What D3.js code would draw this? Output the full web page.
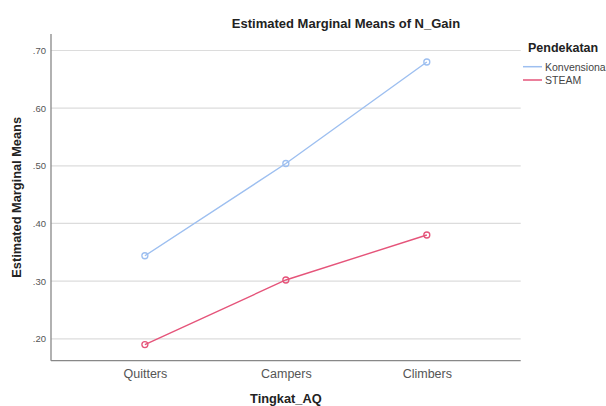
<!DOCTYPE html>
<html><head><meta charset="utf-8">
<script src="https://cdn.jsdelivr.net/npm/d3@7"></script>
<style>body{margin:0;background:#fff}svg{display:block}</style>
</head><body>
<script>
const categories = ["Quitters", "Campers", "Climbers"];
const seriesNames = ["Konvensional", "STEAM"];
const konvensional = [0.344, 0.504, 0.680];
const steam = [0.190, 0.302, 0.380];
const yTicks = [0.20, 0.30, 0.40, 0.50, 0.60, 0.70];
const colors = ["#9dbff0", "#e5547a"];

const W = 606, H = 406;
const m = {left: 51, right: 85.3, top: 34, bottom: 45.3};
const svg = d3.select("body").append("svg").attr("width", W).attr("height", H);

const x = d3.scalePoint().domain(categories).range([m.left, W - m.right]).padding(0.666);
const y = d3.scaleLinear().domain([0.162, 0.7286]).range([H - m.bottom, m.top]);

// gridlines
svg.append("g").selectAll("line").data(yTicks).join("line")
  .attr("x1", m.left).attr("x2", W - m.right)
  .attr("y1", d => y(d)).attr("y2", d => y(d))
  .attr("stroke", "#dcdcdc").attr("stroke-width", 1.2);

// axes
const yAxis = svg.append("g").attr("transform", `translate(${m.left},0)`)
  .call(d3.axisLeft(y).tickValues(yTicks).tickSize(0).tickPadding(5).tickFormat(d => d3.format(".2f")(d).replace(/^0/, "")));
yAxis.select(".domain").remove();
yAxis.selectAll("text").attr("fill", "#555").style("font-family", "Arial, 'Liberation Sans', sans-serif").style("font-size", "9.5px");

const xAxis = svg.append("g").attr("transform", `translate(0,${H - m.bottom})`)
  .call(d3.axisBottom(x).tickSize(0).tickPadding(8));
xAxis.select(".domain").remove();
xAxis.selectAll("text").attr("fill", "#555").style("font-family", "Arial, 'Liberation Sans', sans-serif").style("font-size", "12.5px");

svg.append("line").attr("x1", m.left).attr("x2", m.left).attr("y1", m.top).attr("y2", H - m.bottom)
  .attr("stroke", "#888").attr("stroke-width", 1.3);
svg.append("line").attr("x1", m.left).attr("x2", W - m.right).attr("y1", H - m.bottom).attr("y2", H - m.bottom)
  .attr("stroke", "#888").attr("stroke-width", 1.3);

// series
const series = [konvensional, steam];
const line = d3.line().x((d, i) => x(categories[i])).y(d => y(d));
series.forEach((vals, si) => {
  svg.append("path").datum(vals).attr("d", line).attr("fill", "none")
    .attr("stroke", colors[si]).attr("stroke-width", 1.4);
  svg.append("g").selectAll("circle").data(vals).join("circle")
    .attr("cx", (d, i) => x(categories[i])).attr("cy", d => y(d)).attr("r", 3)
    .attr("fill", "none").attr("stroke", colors[si]).attr("stroke-width", 1.3);
});

const font = "Arial, 'Liberation Sans', sans-serif";
// title
svg.append("text").attr("x", 346).attr("y", 28).attr("text-anchor", "middle")
  .style("font-family", font).style("font-size", "13px").style("font-weight", "bold").attr("fill", "#222")
  .text("Estimated Marginal Means of N_Gain");
// y label
svg.append("text").attr("transform", `translate(21,${(m.top + H - m.bottom) / 2}) rotate(-90)`).attr("text-anchor", "middle")
  .style("font-family", font).style("font-size", "12.8px").style("font-weight", "bold").attr("fill", "#222")
  .text("Estimated Marginal Means");
// x label
svg.append("text").attr("x", (m.left + W - m.right) / 2).attr("y", 402.5).attr("text-anchor", "middle")
  .style("font-family", font).style("font-size", "12.8px").style("font-weight", "bold").attr("fill", "#222")
  .text("Tingkat_AQ");

// legend
svg.append("text").attr("x", 528).attr("y", 52)
  .style("font-family", font).style("font-size", "12.5px").style("font-weight", "bold").attr("fill", "#222")
  .text("Pendekatan");
seriesNames.forEach((n, i) => {
  const yy = 66.7 + i * 13.3;
  svg.append("line").attr("x1", 523).attr("x2", 542).attr("y1", yy).attr("y2", yy)
    .attr("stroke", colors[i]).attr("stroke-width", 1.5);
  svg.append("text").attr("x", 545).attr("y", yy + 3.8)
    .style("font-family", font).style("font-size", "10.5px").attr("fill", "#444").text(n);
});
</script>
</body></html>
